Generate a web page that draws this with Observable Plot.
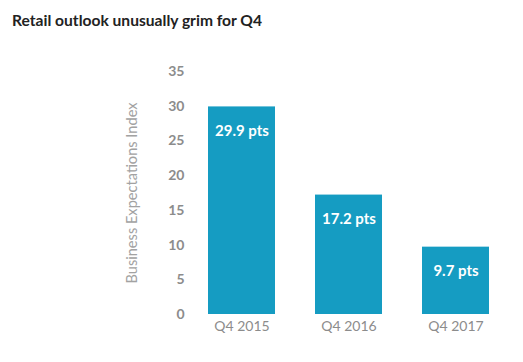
<!DOCTYPE html>
<html>
<head>
<meta charset="utf-8">
<script src="https://cdn.jsdelivr.net/npm/d3@7"></script>
<script src="https://cdn.jsdelivr.net/npm/@observablehq/plot@0.6"></script>
<style>
  body { margin: 0; background: #fff; font-family: Lato, "Open Sans", sans-serif; }
  #title { height: 40px; box-sizing: border-box; padding: 11px 0 0 12px; font-size: 15.6px; font-weight: bold; color: #222; }
</style>
</head>
<body>
<div id="title">Retail outlook unusually grim for Q4</div>
<div id="chart"></div>
<script>
const quarters = ["Q4 2015", "Q4 2016", "Q4 2017"];
const values = [29.9, 17.2, 9.7];
const valueLabels = ["29.9 pts", "17.2 pts", "9.7 pts"];
const yTicks = [0, 5, 10, 15, 20, 25, 30, 35];

const data = quarters.map((q, i) => ({q, v: values[i], label: valueLabels[i]}));

const chart = Plot.plot({
  width: 523,
  height: 322,
  marginTop: 31,
  marginBottom: 48,
  marginLeft: 193,
  marginRight: 18,
  style: {fontFamily: "Lato, 'Open Sans', sans-serif", background: "#fff"},
  x: {domain: quarters, paddingInner: 0.37, paddingOuter: 0.13},
  y: {domain: [0, 35]},
  marks: [
    Plot.barY(data, {x: "q", y: "v", fill: "#159cc2"}),
    Plot.axisX({tickSize: 0, tickPadding: 7, fontSize: 14, fill: "#8c8c8c", label: null}),
    Plot.axisY({ticks: yTicks, tickSize: 0, tickPadding: 9, fontSize: 14, fontWeight: "bold", fill: "#8c8c8c", label: null}),
    Plot.axisY({ticks: yTicks, tickFormat: () => "", tickSize: 0, fontSize: 14.6, fill: "#a2a2a2",
                label: "Business Expectations Index", labelAnchor: "center", labelArrow: "none", labelOffset: 67}),
    Plot.text(data, {x: "q", y: "v", text: "label", dy: 24, fill: "white", fontSize: 15, fontWeight: "bold"})
  ]
});
document.getElementById("chart").appendChild(chart);
</script>
</body>
</html>
